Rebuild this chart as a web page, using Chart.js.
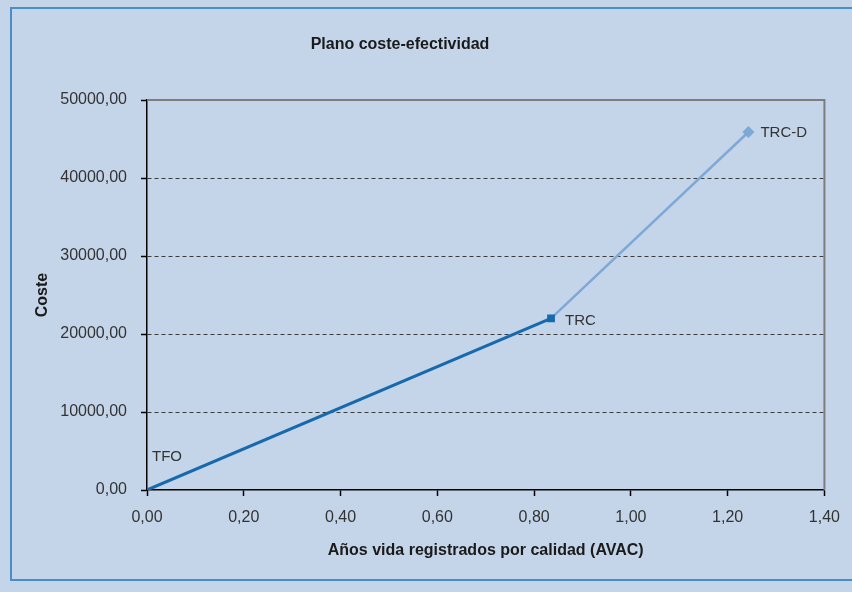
<!DOCTYPE html>
<html>
<head>
<meta charset="utf-8">
<script src="https://cdn.jsdelivr.net/npm/chart.js@4/dist/chart.umd.min.js"></script>
<style>
  html, body { margin: 0; padding: 0; background: #c4d5e9; }
  #wrap { width: 852px; height: 592px; position: relative; }
</style>
</head>
<body>
<div id="wrap"><canvas id="c" width="852" height="592"></canvas></div>
<script>
// Alternatives compared on the cost-effectiveness plane
const alternatives = ['TFO', 'TRC', 'TRC-D'];
const effectiveness = [0, 0.835, 1.243];   // AVAC
const cost = [0, 22000, 45900];            // coste
const xTickValues = [0, 0.2, 0.4, 0.6, 0.8, 1.0, 1.2, 1.4];
const yTickValues = [0, 10000, 20000, 30000, 40000, 50000];

const FONT = '"Liberation Sans", Arial, Helvetica, sans-serif';
const fmt = v => Number(v).toFixed(2).replace('.', ',');

// Segment TFO -> TRC (dark) and TRC -> TRC-D (light)
const seg1 = [0, 1].map(i => ({ x: effectiveness[i], y: cost[i] }));
const seg2 = [1, 2].map(i => ({ x: effectiveness[i], y: cost[i] }));

// label offsets relative to each point (pixels)
const labelOffsets = [[5, -33], [14, 2], [12, 1]];

const decor = {
  id: 'decor',
  beforeDraw(chart) {
    const ctx = chart.ctx;
    ctx.save();
    ctx.fillStyle = '#c4d5e9';
    ctx.fillRect(0, 0, chart.width, chart.height);
    ctx.strokeStyle = '#4b8dc6';
    ctx.lineWidth = 2;
    ctx.strokeRect(11, 8, 860, 572);
    ctx.fillStyle = '#1a1a1a';
    ctx.font = 'bold 16px ' + FONT;
    ctx.textAlign = 'center';
    ctx.textBaseline = 'middle';
    ctx.fillText('Plano coste-efectividad', 400, 45);
    ctx.restore();
  },
  beforeDatasetsDraw(chart) {
    const { ctx, chartArea: a } = chart;
    ctx.save();
    ctx.strokeStyle = '#7d7d7d';
    ctx.lineWidth = 2;
    ctx.beginPath();
    ctx.moveTo(a.left, a.top);
    ctx.lineTo(a.right, a.top);
    ctx.lineTo(a.right, a.bottom);
    ctx.stroke();
    ctx.restore();
  },
  afterDatasetsDraw(chart) {
    const { ctx, scales } = chart;
    ctx.save();
    ctx.fillStyle = '#333';
    ctx.font = '15px ' + FONT;
    ctx.textAlign = 'left';
    ctx.textBaseline = 'middle';
    alternatives.forEach((name, i) => {
      const px = scales.x.getPixelForValue(effectiveness[i]);
      const py = scales.y.getPixelForValue(cost[i]);
      ctx.fillText(name, px + labelOffsets[i][0], py + labelOffsets[i][1]);
    });
    ctx.restore();
  }
};

new Chart(document.getElementById('c'), {
  type: 'scatter',
  data: {
    datasets: [
      {
        label: 'TFO-TRC',
        data: seg1,
        showLine: true,
        borderColor: '#1769ad',
        backgroundColor: '#1769ad',
        borderWidth: 3,
        pointStyle: 'rect',
        pointRadius: [0, 5.5],
        pointBorderWidth: 0
      },
      {
        label: 'TRC-TRC-D',
        data: seg2,
        showLine: true,
        borderColor: '#7ea8d6',
        backgroundColor: '#7ea8d6',
        borderWidth: 2.5,
        pointStyle: 'rectRot',
        pointRadius: [0, 6],
        pointBorderWidth: 0
      }
    ]
  },
  options: {
    responsive: false,
    animation: false,
    devicePixelRatio: 1,
    layout: { padding: { left: 0, right: 27, top: 100, bottom: 0 } },
    plugins: {
      legend: { display: false },
      tooltip: { enabled: false },
      title: { display: false }
    },
    scales: {
      x: {
        type: 'linear',
        min: 0,
        max: 1.4,
        afterBuildTicks: s => { s.ticks = xTickValues.map(v => ({ value: v })); },
        afterFit: s => { s.height = 102; },
        ticks: {
          callback: v => fmt(v),
          color: '#333',
          font: { family: FONT, size: 16 },
          padding: 12,
          maxRotation: 0
        },
        grid: {
          drawOnChartArea: false,
          drawTicks: true,
          tickLength: 6,
          tickColor: '#000',
          tickWidth: 1.5
        },
        border: { color: '#000', width: 1.5 },
        title: {
          display: true,
          text: 'Años vida registrados por calidad (AVAC)',
          color: '#1a1a1a',
          font: { family: FONT, size: 16, weight: 'bold' },
          padding: { top: 0, bottom: 32 }
        }
      },
      y: {
        type: 'linear',
        min: 0,
        max: 50000,
        afterBuildTicks: s => { s.ticks = yTickValues.map(v => ({ value: v })); },
        afterFit: s => { s.width = 147; },
        ticks: {
          callback: v => fmt(v),
          color: '#333',
          font: { family: FONT, size: 16 },
          padding: 14
        },
        grid: {
          color: c => (c.tick && c.tick.value === 0) ? 'rgba(0,0,0,0)' : '#3c3c3c',
          lineWidth: 1,
          drawTicks: true,
          tickLength: 6,
          tickColor: '#000',
          tickWidth: 1.5
        },
        border: { color: '#000', width: 1.5, dash: [4, 3] },
        title: {
          display: true,
          text: 'Coste',
          color: '#1a1a1a',
          font: { family: FONT, size: 16, weight: 'bold' },
          padding: { top: 33, bottom: 0 }
        }
      }
    }
  },
  plugins: [decor]
});
</script>
</body>
</html>
